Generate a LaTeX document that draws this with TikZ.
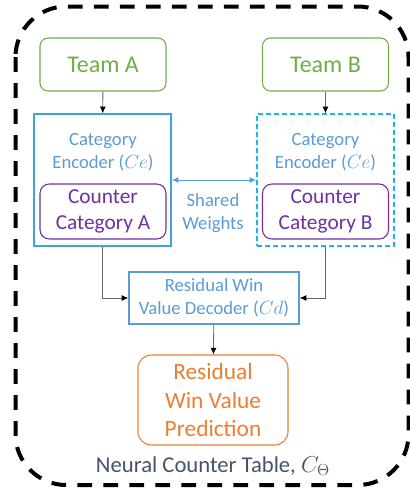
\documentclass[tikz,border=0pt]{standalone}
\usepackage{fontspec}
\setmainfont{Carlito}
\usepackage{amsmath}
\usetikzlibrary{positioning,arrows.meta}
\definecolor{teamgreen}{HTML}{70AD47}
\definecolor{encblue}{HTML}{3DA6D6}
\definecolor{encbluelight}{HTML}{22B0EE}
\definecolor{txtblue}{HTML}{5B9BD5}
\definecolor{ctrpurple}{HTML}{7030A0}
\definecolor{predorange}{HTML}{ED7D31}
\definecolor{slate}{HTML}{44546A}
\tikzset{
  teambox/.style={draw=teamgreen,text=teamgreen,line width=0.8pt,rounded corners=6pt,minimum width=126*0.75pt,minimum height=53*0.75pt,font=\fontsize{18}{20}\selectfont},
  encbox/.style={draw=encblue,line width=1.1pt,minimum width=137*0.75pt,minimum height=132*0.75pt},
  enctext/.style={text=txtblue,align=center,font=\fontsize{14}{17}\selectfont},
  ctrbox/.style={draw=ctrpurple,text=ctrpurple,line width=0.8pt,rounded corners=7pt,align=center,minimum width=126*0.75pt,minimum height=55*0.75pt,font=\fontsize{16}{19.5}\selectfont},
  link/.style={draw=black!60,-{Latex[black,length=5pt,width=4.5pt]},line width=0.6pt}
}
\begin{document}
\begin{tikzpicture}[x=0.75pt,y=-0.75pt]
\useasboundingbox (0,0) rectangle (410,489);
\draw[line width=3pt,dash pattern=on 11pt off 8.5pt,rounded corners=38pt] (15.5,6.5) rectangle (408.5,485);
\path
(103,64.5)    node[teambox] (teamA) {Team A}
(325.5,64.5)  node[teambox] (teamB) {Team B}
(102.5,180)   node[encbox] (encA) {}
(325.5,180)   node[encbox,draw=encbluelight,dashed,dash pattern=on 3.5pt off 2.5pt] (encB) {}
(103,152)     node[enctext] (encAtxt) {Category\\Encoder ($Ce$)}
(325.5,152)   node[enctext] (encBtxt) {Category\\Encoder ($Ce$)}
(103,211.5)   node[ctrbox] (ctrA) {Counter\\Category A}
(325.5,211.5) node[ctrbox] (ctrB) {Counter\\Category B}
(213,213)     node[enctext] (shared) {Shared\\Weights}
(214,298)     node[draw=txtblue,line width=1.1pt,enctext,minimum width=170*0.75pt,minimum height=52*0.75pt] (dec) {Residual Win\\Value Decoder ($Cd$)}
(213,400)     node[draw=predorange,text=predorange,line width=0.8pt,rounded corners=10pt,align=center,minimum width=150*0.75pt,minimum height=90*0.75pt,font=\fontsize{17.5}{21.5}\selectfont] (pred) {Residual\\Win Value\\Prediction}
(213,466)     node[text=slate,font=\fontsize{17}{20}\selectfont] (title) {Neural Counter Table, $C_\Theta$};

\draw[link] (teamA)--(encA);
\draw[link] (teamB)--(encB);
\draw[txtblue,{Latex[length=5pt,width=4.5pt]}-{Latex[length=5pt,width=4.5pt]},line width=0.7pt] (encA.east)--(encB.west);
\draw[link] (encA.south) |- (dec.west);
\draw[link] (encB.south) |- (dec.east);
\draw[link] (dec)--(pred);
\end{tikzpicture}
\end{document}
